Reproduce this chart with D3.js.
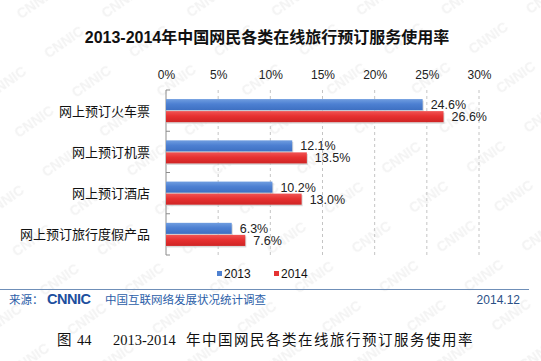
<!DOCTYPE html>
<html>
<head>
<meta charset="utf-8">
<script src="https://cdn.jsdelivr.net/npm/d3@7"></script>
<style>
  body { margin: 0; background: #fff; }
  svg { display: block; font-family: "Liberation Sans", Arial, "Noto Sans CJK SC", sans-serif; }
</style>
</head>
<body>
<div id="chart"></div>
<script>
const width = 541,
    height = 361;

// dati
const categories = ["网上预订火车票", "网上预订机票", "网上预订酒店", "网上预订旅行度假产品"];
const series = ["2013", "2014"];
const values2013 = [0.246, 0.121, 0.102, 0.063];
const values2014 = [0.266, 0.135, 0.130, 0.076];
const tickValues = [0, 0.05, 0.10, 0.15, 0.20, 0.25, 0.30];

const rows = categories.map((c, i) => ({
    cat: c,
    vals: [
        { s: "2013", v: values2013[i] },
        { s: "2014", v: values2014[i] }
    ]
}));

const svg = d3.select("#chart")
    .append("svg")
    .attr("width", width)
    .attr("height", height)
    .attr("viewBox", `0 0 ${width} ${height}`);

const defs = svg.append("defs");

// filigrana CNNIC
const wm = defs.append("pattern")
    .attr("id", "wm")
    .attr("patternUnits", "userSpaceOnUse")
    .attr("width", 70)
    .attr("height", 48)
    .attr("patternTransform", "rotate(-35)");
wm.append("text")
    .attr("x", 6)
    .attr("y", 28)
    .attr("font-size", 14)
    .attr("font-weight", "bold")
    .attr("fill", "#f3f3f3")
    .text("CNNIC");

svg.append("rect")
    .attr("width", width)
    .attr("height", height)
    .attr("fill", "url(#wm)");

const gradBlue = defs.append("linearGradient")
    .attr("id", "gBlue").attr("x1", 0).attr("y1", 0).attr("x2", 0).attr("y2", 1);
gradBlue.append("stop").attr("offset", "0%").attr("stop-color", "#6f9de0");
gradBlue.append("stop").attr("offset", "45%").attr("stop-color", "#4d80d2");
gradBlue.append("stop").attr("offset", "100%").attr("stop-color", "#3e70c2");

const gradRed = defs.append("linearGradient")
    .attr("id", "gRed").attr("x1", 0).attr("y1", 0).attr("x2", 0).attr("y2", 1);
gradRed.append("stop").attr("offset", "0%").attr("stop-color", "#f05454");
gradRed.append("stop").attr("offset", "45%").attr("stop-color", "#e73131");
gradRed.append("stop").attr("offset", "100%").attr("stop-color", "#cf2424");

const color = d3.scaleOrdinal()
    .domain(series)
    .range(["url(#gBlue)", "url(#gRed)"]);
const legendColor = d3.scaleOrdinal()
    .domain(series)
    .range(["#4f81d0", "#e53333"]);

// titolo
svg.append("text")
    .attr("x", 267)
    .attr("y", 43)
    .attr("text-anchor", "middle")
    .attr("font-size", 16)
    .attr("font-weight", "bold")
    .attr("fill", "#111")
    .text("2013-2014年中国网民各类在线旅行预订服务使用率");

const x = d3.scaleLinear()
    .domain([0, 0.30])
    .range([166, 479]);

const y = d3.scaleBand()
    .domain(categories)
    .range([90, 255])
    .paddingInner(0.44)
    .paddingOuter(0.22);

const ys = d3.scaleBand()
    .domain(series)
    .range([0, y.bandwidth()])
    .paddingInner(0.08);

// griglia tratteggiata
svg.append("g")
    .selectAll("line")
    .data(tickValues.slice(1))
    .join("line")
    .attr("x1", d => x(d))
    .attr("x2", d => x(d))
    .attr("y1", 90)
    .attr("y2", 255)
    .attr("stroke", "#c4c4c4")
    .attr("stroke-width", 1)
    .attr("stroke-dasharray", "3,3");

// asse superiore
const xAxis = svg.append("g")
    .attr("transform", "translate(0, 82)")
    .call(d3.axisTop(x).tickValues(tickValues).tickFormat(d3.format(".0%")).tickSize(0));
xAxis.select(".domain").remove();
xAxis.selectAll("text")
    .attr("font-size", 12)
    .attr("fill", "#222")
    .attr("font-family", "\"Liberation Sans\", Arial, sans-serif");

// asse verticale
svg.append("line")
    .attr("x1", 166).attr("x2", 166)
    .attr("y1", 90).attr("y2", 255)
    .attr("stroke", "#8c8c8c");

const bounds = d3.range(categories.length + 1).map(i => 90 + i * y.step());
svg.append("g")
    .selectAll("line")
    .data(bounds)
    .join("line")
    .attr("x1", 166).attr("x2", 170)
    .attr("y1", d => d).attr("y2", d => d)
    .attr("stroke", "#8c8c8c");

// etichette categorie
svg.append("g")
    .selectAll("text")
    .data(categories)
    .join("text")
    .attr("x", 150)
    .attr("y", d => y(d) + y.bandwidth() / 2 + 5)
    .attr("text-anchor", "end")
    .attr("font-size", 13)
    .attr("fill", "#111")
    .attr("font-family", "\"Noto Sans CJK SC\", sans-serif")
    .text(d => d);

// barre
const groups = svg.append("g")
    .selectAll("g")
    .data(rows)
    .join("g")
    .attr("transform", d => `translate(0, ${y(d.cat)})`);

groups.selectAll("rect.shadow")
    .data(d => d.vals)
    .join("rect")
    .attr("class", "shadow")
    .attr("x", x(0) + 1)
    .attr("y", d => ys(d.s) + 1.5)
    .attr("width", d => x(d.v) - x(0))
    .attr("height", ys.bandwidth())
    .attr("fill", "#c8c8c8")
    .attr("opacity", 0.7);

groups.selectAll("rect.bar")
    .data(d => d.vals)
    .join("rect")
    .attr("class", "bar")
    .attr("x", x(0))
    .attr("y", d => ys(d.s))
    .attr("width", d => x(d.v) - x(0))
    .attr("height", ys.bandwidth())
    .attr("fill", d => color(d.s));

groups.selectAll("text")
    .data(d => d.vals)
    .join("text")
    .attr("x", d => x(d.v) + 8)
    .attr("y", d => ys(d.s) + ys.bandwidth() / 2 + 4.5)
    .attr("font-size", 12.5)
    .attr("fill", "#222")
    .text(d => d3.format(".1%")(d.v));

// legenda
const legendX = [217, 274];
const legend = svg.append("g")
    .selectAll("g")
    .data(series)
    .join("g")
    .attr("transform", (d, i) => `translate(${legendX[i]}, 274)`);
legend.append("rect")
    .attr("x", 0).attr("y", -3)
    .attr("width", 5).attr("height", 5)
    .attr("fill", d => legendColor(d));
legend.append("text")
    .attr("x", 7)
    .attr("y", 4)
    .attr("font-size", 12)
    .attr("fill", "#111")
    .text(d => d);

// linea separatrice
svg.append("line")
    .attr("x1", 0).attr("x2", 529)
    .attr("y1", 289.5).attr("y2", 289.5)
    .attr("stroke", "#6f8fb8")
    .attr("stroke-width", 1);

// fonte
const foot = svg.append("g").attr("fill", "#2c5ea8");
foot.append("text")
    .attr("x", 9).attr("y", 304)
    .attr("font-size", 11.5)
    .attr("font-family", "\"Noto Sans CJK SC\", sans-serif")
    .text("来源：");
foot.append("text")
    .attr("x", 47).attr("y", 304)
    .attr("font-size", 14.5)
    .attr("font-weight", "bold")
    .attr("fill", "#1d4f9e")
    .attr("letter-spacing", -0.5)
    .text("CNNIC");
foot.append("text")
    .attr("x", 105).attr("y", 304)
    .attr("font-size", 11.5)
    .attr("font-family", "\"Noto Sans CJK SC\", sans-serif")
    .text("中国互联网络发展状况统计调查");
foot.append("text")
    .attr("x", 520).attr("y", 303.5)
    .attr("text-anchor", "end")
    .attr("font-size", 12)
    .attr("fill", "#2a4f86")
    .text("2014.12");

// didascalia
const capTitle = "年中国网民各类在线旅行预订服务使用率";
const cap = svg.append("text")
    .attr("y", 345)
    .attr("font-size", 14.5)
    .attr("fill", "#111")
    .attr("font-family", "\"Liberation Serif\", \"Noto Sans CJK SC\", serif");
cap.append("tspan").attr("x", 57).text("图");
cap.append("tspan").attr("x", 77).text("44");
cap.append("tspan").attr("x", 113).text("2013-2014");
cap.append("tspan")
    .attr("x", Array.from(capTitle).map((c, i) => 186 + i * 16).join(" "))
    .text(capTitle);
</script>
</body>
</html>
